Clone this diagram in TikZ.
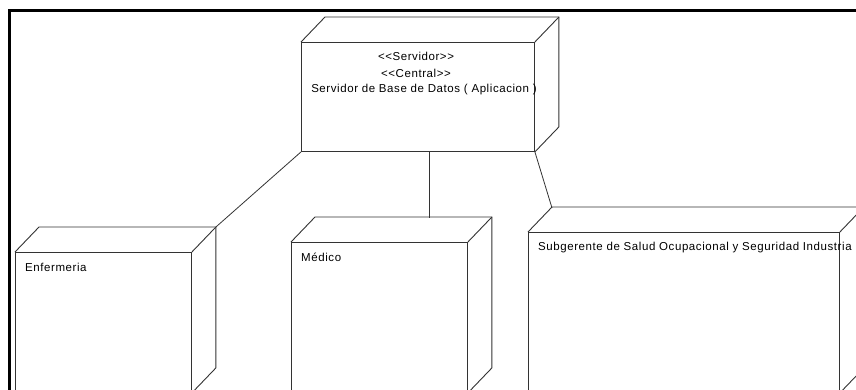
\documentclass[tikz,border=0pt]{standalone}
\usepackage{fontspec}
\setmainfont{Liberation Sans}[LetterSpace=5]
\usetikzlibrary{calc}
\newcommand\nodedepth[1]{%
  \draw[boxline] (#1.north west) -- ++(24,-25) -| ($(#1.south east)+(24,-25)$) -- (#1.south east);
  \draw[boxline] (#1.north east) -- ++(24,-25);
}
\begin{document}
\begin{tikzpicture}[x=1pt,y=-1pt,
  boxline/.style={draw=black!80, line width=0.9pt},
  nodebox/.style={boxline, fill=white, rectangle, inner sep=0pt, anchor=north west},
  conn/.style={draw=black!80, line width=0.8pt},
  lbl/.style={inner sep=0pt, font=\fontsize{11.5}{13}\selectfont, text=black}]
\useasboundingbox (0,0) rectangle (856,389);
\clip (0,0) rectangle (856,389);
\fill[white] (0,0) rectangle (856,389);
% frame
\draw[line width=3pt, black] (9.5,400) -- (9.5,10.5) -- (860,10.5);
% nodes
\node[nodebox, minimum width=233pt, minimum height=109pt] (srv) at (301,42) {};
\nodedepth{srv}
\node[nodebox, minimum width=176pt, minimum height=140pt] (enf) at (15,252) {};
\nodedepth{enf}
\node[nodebox, minimum width=176pt, minimum height=150pt] (med) at (291,242) {};
\nodedepth{med}
\node[nodebox, minimum width=311pt, minimum height=160pt] (sub) at (528,232) {};
\nodedepth{sub}
% labels
\node[lbl] (s1) at (416,56) {<{}<Servidor>{}>};
\node[lbl] (s2) at (416,73) {<{}<Central>{}>};
\node[lbl] (s3) at (424,90) {Servidor de Base de Datos ( Aplicacion )};
\node[lbl, anchor=west] (enft) at ($(enf.north west)+(10,15)$) {Enfermeria};
\node[lbl, anchor=west] (medt) at ($(med.north west)+(10,15)$) {Médico};
\node[lbl, anchor=west] (subt) at ($(sub.north west)+(10,16)$) {Subgerente de Salud Ocupacional y Seguridad Industria};
% connectors
\coordinate (enfc) at ($(enf.north east)+(24,-25)$);
\coordinate (medc) at ($(med.north west)+(138,-24)$);
\coordinate (subc) at ($(sub.north west)+(24,-24)$);
\draw[conn] (srv.south west) -- (enfc);
\draw[conn] (medc |- srv.south) -- (medc);
\draw[conn] (srv.south east) -- (subc);
\end{tikzpicture}
\end{document}
